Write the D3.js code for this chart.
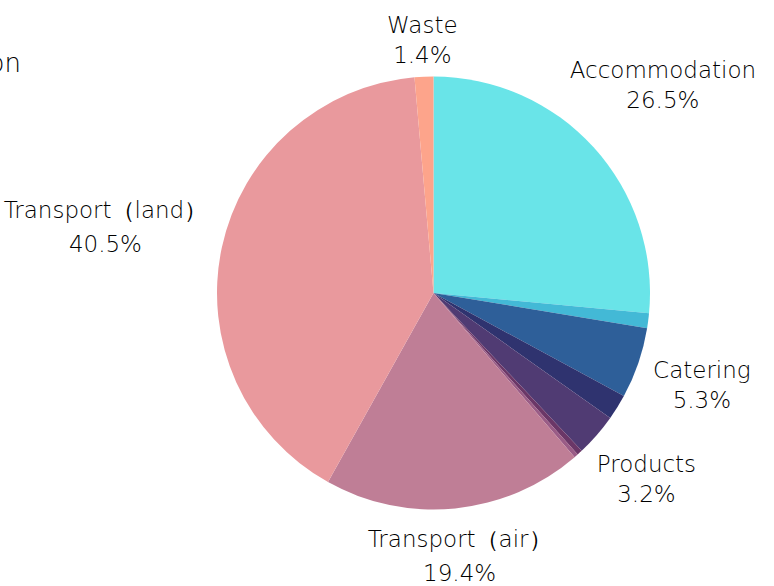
<!DOCTYPE html>
<html>
<head>
<meta charset="utf-8">
<script src="https://cdn.jsdelivr.net/npm/d3@7"></script>
<style>
  html, body { margin: 0; padding: 0; background: #fff; }
  svg { display: block; }
</style>
</head>
<body>
<svg id="chart" width="774" height="586"></svg>
<script>
// ---- data ----
const categories = ["Accommodation", "Energy", "Catering", "Communication", "Products", "Services", "Materials", "Transport（air）", "Transport（land）", "Waste"];
const values = [26.5, 1.1, 5.3, 1.9, 3.2, 0.4, 0.3, 19.4, 40.5, 1.4];
const colors = ["#69e4e8", "#43b9d6", "#2e5f99", "#2f336f", "#503b73", "#6b3767", "#9a5c86", "#bf7e96", "#e9999d", "#fda48b"];
const labelled = ["Accommodation", "Catering", "Products", "Transport（air）", "Transport（land）", "Waste"];
const titleText = "Carbon footprint distribution";

// ---- layout ----
const svg = d3.select("#chart");
const cx = 433.5, cy = 293, radius = 216.5;
const fontFamily = "'DejaVu Sans', 'Noto Sans', sans-serif";
const fontSize = 23, capH = 0.73 * fontSize;
const gapR = radius + 13.5;

const data = categories.map((c, i) => ({ name: c, value: values[i], color: colors[i] }));
const total = d3.sum(values);

const pie = d3.pie().sort(null).value(d => d.value);
const arcs = pie(data);
const arc = d3.arc().innerRadius(0).outerRadius(radius);

const g = svg.append("g").attr("transform", `translate(${cx},${cy})`);

g.selectAll("path.slice")
  .data(arcs)
  .enter().append("path")
  .attr("class", "slice")
  .attr("d", arc)
  .attr("fill", d => d.data.color);

// ---- labels (placed outside, nearest box point at gapR along mid-angle ray) ----
const fmt = d3.format(".1f");
const labelArcs = arcs.filter(a => labelled.includes(a.data.name));

labelArcs.forEach(a => {
  const mid = (a.startAngle + a.endAngle) / 2;
  const ux = Math.sin(mid), uy = -Math.cos(mid);
  // lines containing full-width glyphs get a taller line box
  const wide = /[\uFF00-\uFFEF]/.test(a.data.name);
  const lineGap = wide ? 34 : 30;
  const topPad = wide ? 7 : 0;
  const t = g.append("text")
    .attr("text-anchor", "middle")
    .attr("font-family", fontFamily)
    .attr("font-weight", 300)
    .attr("font-size", fontSize)
    .attr("fill", "#000");
  const h = lineGap + capH + topPad;
  const b1 = -h / 2 + capH + topPad, b2 = h / 2;
  t.append("tspan").attr("x", 0).attr("y", b1).text(a.data.name);
  t.append("tspan").attr("x", 0).attr("y", b2).text(fmt(a.data.value / total * 100) + "%");
  const w = t.node().getBBox().width;
  function nearest(d) {
    const x0 = d * ux - w / 2, x1 = d * ux + w / 2;
    const y0 = d * uy - h / 2, y1 = d * uy + h / 2;
    const px = Math.max(x0, Math.min(0, x1));
    const py = Math.max(y0, Math.min(0, y1));
    return Math.hypot(px, py);
  }
  let lo = 0, hi = 1000;
  for (let k = 0; k < 60; k++) {
    const m = (lo + hi) / 2;
    if (nearest(m) < gapR) lo = m; else hi = m;
  }
  t.attr("transform", `translate(${hi * ux},${hi * uy})`);
});

// ---- title (mostly off-canvas at left) ----
svg.append("text")
  .attr("x", 21)
  .attr("y", 72)
  .attr("text-anchor", "end")
  .attr("font-family", fontFamily)
  .attr("font-weight", 300)
  .attr("font-size", 26)
  .attr("fill", "#000")
  .text(titleText);
</script>
</body>
</html>
